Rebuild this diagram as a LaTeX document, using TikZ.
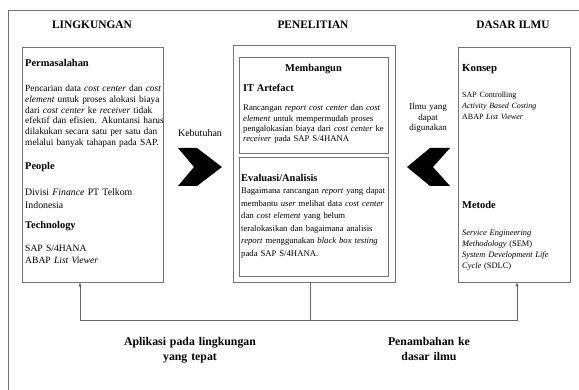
\documentclass[tikz,border=0pt]{standalone}
\usepackage{fontspec}
\setmainfont{Liberation Serif}
\usetikzlibrary{arrows.meta}
\hyphenpenalty=10000
\exhyphenpenalty=10000

\tikzset{
  panel/.style={draw=black!55, line width=0.8pt, inner sep=0pt},
  judul/.style={inner sep=0pt, font=\fontsize{11.4}{13}\selectfont\bfseries},
  subjudul/.style={anchor=base west, inner sep=0pt, font=\fontsize{10.4}{12}\selectfont\bfseries},
  isi/.style={anchor=base west, inner sep=0pt, align=left, font=\fontsize{9.4}{10.8}\selectfont},
  catatan/.style={anchor=base, inner sep=0pt, align=center, text width=160, font=\fontsize{11.8}{16}\selectfont\bfseries},
  garis/.style={draw=black!60, line width=0.8pt},
  panah/.style={garis, -{Latex[length=4pt,width=3.5pt]}},
}

\begin{document}
\begin{tikzpicture}[x=1pt,y=1pt,yscale=-1]
\useasboundingbox (0,0) rectangle (579,390);

%Frame
\draw [black!55, line width=0.8pt] (8,390) -- (8,10) -- (579,10);

% Column titles
\node [judul] (tLingk) at (92,25) {LINGKUNGAN};
\node [judul] (tPen) at (313,25) {PENELITIAN};
\node [judul] (tDasar) at (513,25) {DASAR ILMU};

%Shapes: panels
\node [panel, minimum width=141, minimum height=235] (lingk) at (92.5,164.5) {};
\node [panel, minimum width=162, minimum height=237] (pen) at (314,163.5) {};
\node [panel, minimum width=149, minimum height=96] (bangun) at (313.5,105) {};
\node [panel, minimum width=149, minimum height=119] (evaluasi) at (313.5,216.5) {};
\node [panel, minimum width=112, minimum height=235] (dasar) at (514,164.5) {};

% Text Node: lingkungan
\node [subjudul] (masalah) at (25,67) {Permasalahan};
\node [isi, text width=140] (masalahIsi) at (25,91.5) {Pencarian data \textit{cost center} dan \textit{cost}\\\textit{element} untuk proses alokasi biaya\\dari \textit{cost center} ke \textit{receiver} tidak\\efektif dan efisien. Akuntansi harus\\dilakukan secara satu per satu dan\\melalui banyak tahapan pada SAP.};
\node [subjudul] (people) at (25,170) {People};
\node [isi, text width=140, font=\fontsize{9.8}{13}\selectfont] (peopleIsi) at (25,195.5) {Divisi \textit{Finance} PT Telkom\\Indonesia};
\node [subjudul] (tekno) at (25,229) {Technology};
\node [isi, text width=140, font=\fontsize{9.6}{12}\selectfont] (teknoIsi) at (25,251.5) {SAP S/4HANA\\ABAP \textit{List Viewer}};

% Text Node: penelitian
\node [judul, anchor=base, font=\fontsize{10.4}{12}\selectfont\bfseries] (membangun) at (313.5,72) {Membangun};
\node [subjudul] (artefak) at (243,91.5) {IT Artefact};
\node [isi, text width=150, font=\fontsize{8.7}{10.3}\selectfont] (artefakIsi) at (243,111) {Rancangan \textit{report cost center} dan \textit{cost}\\\textit{element} untuk mempermudah proses\\pengalokasian biaya dari \textit{cost center} ke\\\textit{receiver} pada SAP S/4HANA};
\node [subjudul] (analisis) at (241,181.5) {Evaluasi/Analisis};
\node [isi, text width=150, font=\fontsize{8.7}{12.6}\selectfont] (analisisIsi) at (241,193.5) {Bagaimana rancangan \textit{report} yang dapat\\membantu \textit{user} melihat data \textit{cost center}\\dan \textit{cost element} yang belum\\teralokasikan dan bagaimana analisis\\\textit{report} menggunakan \textit{black box testing}\\pada SAP S/4HANA.};

% Text Node: dasar ilmu
\node [subjudul, font=\fontsize{10.8}{12}\selectfont\bfseries] (konsep) at (462,72) {Konsep};
\node [isi, text width=104, font=\fontsize{8}{11}\selectfont] (konsepIsi) at (462,98) {SAP Controlling\\\textit{Activity Based Costing}\\ABAP \textit{List Viewer}};
\node [subjudul] (metode) at (462,209) {Metode};
\node [isi, text width=104, font=\fontsize{8.4}{11}\selectfont] (metodeIsi) at (462,236) {\textit{Service Engineering}\\\textit{Methodology} (SEM)\\\textit{System Development Life}\\\textit{Cycle} (SDLC)};

% Chevrons
\fill (178,148) -- (197,148) -- (222,167) -- (197,186) -- (178,186) -- (194,167) -- cycle;
\fill (450,148) -- (430,148) -- (407,167) -- (430,186) -- (450,186) -- (433,167) -- cycle;

% Text Node: chevron labels
\node [inner sep=0pt, anchor=base, font=\fontsize{10}{12}\selectfont] (butuh) at (200,137) {Kebutuhan};
\node [isi, anchor=base, align=center, text width=50, font=\fontsize{9}{10.5}\selectfont] (ilmu) at (428,110) {Ilmu yang\\dapat\\digunakan};

%Straight Lines: feedback
\coordinate (simpul) at (310,320);
\coordinate (kiri) at (80,320);
\coordinate (kanan) at (517,320);
\draw [garis] (simpul |- pen.south) -- (simpul);
\draw [panah] (simpul) -- (kiri) -- (kiri |- lingk.south);
\draw [panah] (simpul) -- (kanan) -- (kanan |- dasar.south);

% Text Node: bottom labels
\node [catatan] (aplikasi) at (190,345) {Aplikasi pada lingkungan\\yang tepat};
\node [catatan] (tambah) at (429,345) {Penambahan ke\\dasar ilmu};

\end{tikzpicture}
\end{document}
